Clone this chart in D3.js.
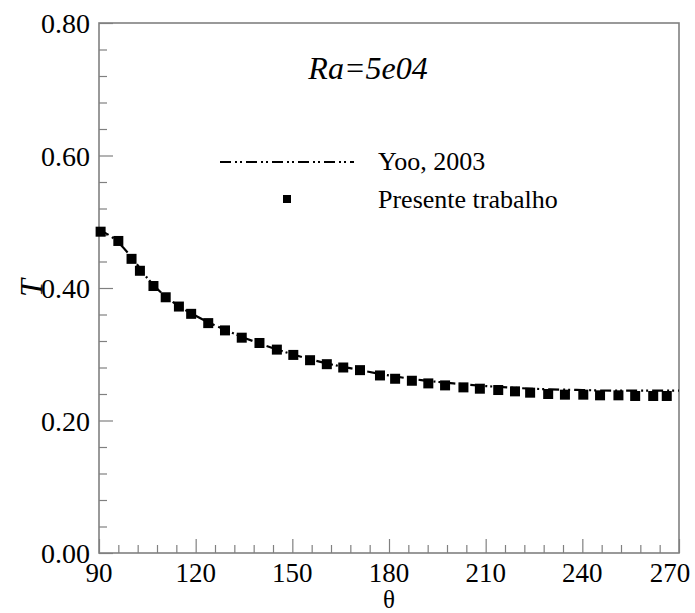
<!DOCTYPE html>
<html>
<head>
<meta charset="utf-8">
<script src="https://cdn.jsdelivr.net/npm/d3@7"></script>
<style>
  body { margin: 0; background: #fff; }
</style>
</head>
<body>
<div id="chart"></div>
<script>
// Presente trabalho (squares)
const thetaPresent = [90.5, 96.0, 100.1, 102.7, 106.9, 110.7, 114.8, 118.6, 123.9, 129.1,
    134.3, 139.8, 145.2, 150.3, 155.5, 160.7, 165.8, 171.0, 177.2, 181.9,
    187.1, 192.2, 197.4, 203.1, 208.2, 213.9, 219.1, 223.8, 229.4, 234.6,
    240.3, 245.5, 251.2, 256.4, 262.0, 266.2];
const tPresent = [0.485, 0.471, 0.444, 0.426, 0.403, 0.386, 0.372, 0.361, 0.347, 0.336,
    0.325, 0.317, 0.307, 0.299, 0.291, 0.285, 0.280, 0.276, 0.268, 0.263,
    0.260, 0.256, 0.253, 0.250, 0.248, 0.246, 0.244, 0.242, 0.240, 0.239,
    0.239, 0.238, 0.238, 0.237, 0.237, 0.237];

// Yoo, 2003 (dash-dot-dot line)
const thetaYoo = [90, 95, 100, 105, 110, 115, 120, 130, 140, 150, 160, 170,
    180, 190, 200, 210, 220, 230, 240, 250, 260, 270];
const tYoo = [0.488, 0.473, 0.447, 0.415, 0.390, 0.372, 0.358, 0.335, 0.316, 0.300, 0.287, 0.277,
    0.268, 0.261, 0.256, 0.252, 0.249, 0.247, 0.246, 0.245, 0.245, 0.245];

const xTicks = [90, 120, 150, 180, 210, 240, 270];
const yTicks = [0.0, 0.2, 0.4, 0.6, 0.8];

const width = 695, height = 613;
const margin = { left: 99, right: 16, top: 23, bottom: 60 };
const serif = "Liberation Serif";

const svg = d3.select("#chart")
    .append("svg")
    .attr("width", width)
    .attr("height", height)
    .attr("font-family", serif);

const x = d3.scaleLinear().domain([90, 270]).range([margin.left, width - margin.right]);
const y = d3.scaleLinear().domain([0, 0.8]).range([height - margin.bottom, margin.top]);

const axisColor = "#808080";

// Minor + major ticks on x
const xAxis = d3.axisBottom(x).tickValues(d3.range(90, 271, 6)).tickSize(-8).tickFormat("");
svg.append("g")
    .attr("transform", `translate(0,${y(0)})`)
    .call(xAxis)
    .call(g => g.selectAll(".tick line").attr("stroke", axisColor).attr("stroke-width", 1.2)
        .filter(d => xTicks.includes(d)).attr("y2", -14))
    .call(g => g.select(".domain").remove());

// Minor + major ticks on y
const yAxis = d3.axisLeft(y).tickValues(d3.range(0, 0.81, 0.04)).tickSize(-8).tickFormat("");
svg.append("g")
    .attr("transform", `translate(${x(90)},0)`)
    .call(yAxis)
    .call(g => g.selectAll(".tick line").attr("stroke", axisColor).attr("stroke-width", 1.2)
        .filter(d => yTicks.some(t => Math.abs(t - d) < 1e-6)).attr("x2", 14))
    .call(g => g.select(".domain").remove());

// Frame
svg.append("rect")
    .attr("x", x(90))
    .attr("y", y(0.8))
    .attr("width", x(270) - x(90))
    .attr("height", y(0) - y(0.8))
    .attr("fill", "none")
    .attr("stroke", axisColor)
    .attr("stroke-width", 1.6);

// Tick labels (last one kept inside the page, as in the original)
svg.append("g")
    .attr("font-size", 27)
    .selectAll("text")
    .data(xTicks)
    .enter()
    .append("text")
    .attr("x", d => Math.min(x(d), width - 25))
    .attr("y", y(0) + 29)
    .attr("text-anchor", "middle")
    .text(d => String(d));

svg.append("g")
    .attr("font-size", 28)
    .selectAll("text")
    .data(yTicks)
    .enter()
    .append("text")
    .attr("x", x(90) - 9)
    .attr("y", d => y(d) + 10)
    .attr("text-anchor", "end")
    .text(d => d.toFixed(2));

// Axis titles
svg.append("text")
    .attr("x", (x(90) + x(270)) / 2)
    .attr("y", 608)
    .attr("text-anchor", "middle")
    .attr("font-size", 25)
    .text("θ");

svg.append("text")
    .attr("transform", `translate(42,${y(0.4)}) rotate(-90)`)
    .attr("text-anchor", "middle")
    .attr("font-size", 32)
    .attr("font-style", "italic")
    .text("T");

// Title inside plot
svg.append("text")
    .attr("x", 368)
    .attr("y", 79)
    .attr("text-anchor", "middle")
    .attr("font-size", 32)
    .attr("font-style", "italic")
    .text("Ra=5e04");

// Yoo line
const line = d3.line()
    .x((d, i) => x(thetaYoo[i]))
    .y(d => y(d))
    .curve(d3.curveMonotoneX);

const dash = "11,4,2,3,2,4";

svg.append("path")
    .datum(tYoo)
    .attr("d", line)
    .attr("fill", "none")
    .attr("stroke", "#000")
    .attr("stroke-width", 2.2)
    .attr("stroke-dasharray", dash);

// Present squares
const sq = 10;
svg.selectAll(".pt")
    .data(tPresent)
    .enter()
    .append("rect")
    .attr("x", (d, i) => x(thetaPresent[i]) - sq / 2)
    .attr("y", d => y(d) - sq / 2)
    .attr("width", sq)
    .attr("height", sq)
    .attr("fill", "#000");

// Legend
const legend = svg.append("g").attr("font-size", 26);
legend.append("line")
    .attr("x1", 220).attr("x2", 354)
    .attr("y1", 162).attr("y2", 162)
    .attr("stroke", "#000")
    .attr("stroke-width", 2.2)
    .attr("stroke-dasharray", dash);
legend.append("text")
    .attr("x", 378).attr("y", 170)
    .text("Yoo, 2003");
legend.append("rect")
    .attr("x", 287 - 4).attr("y", 199 - 4)
    .attr("width", 8).attr("height", 8)
    .attr("fill", "#000");
legend.append("text")
    .attr("x", 378).attr("y", 208)
    .text("Presente trabalho");
</script>
</body>
</html>
